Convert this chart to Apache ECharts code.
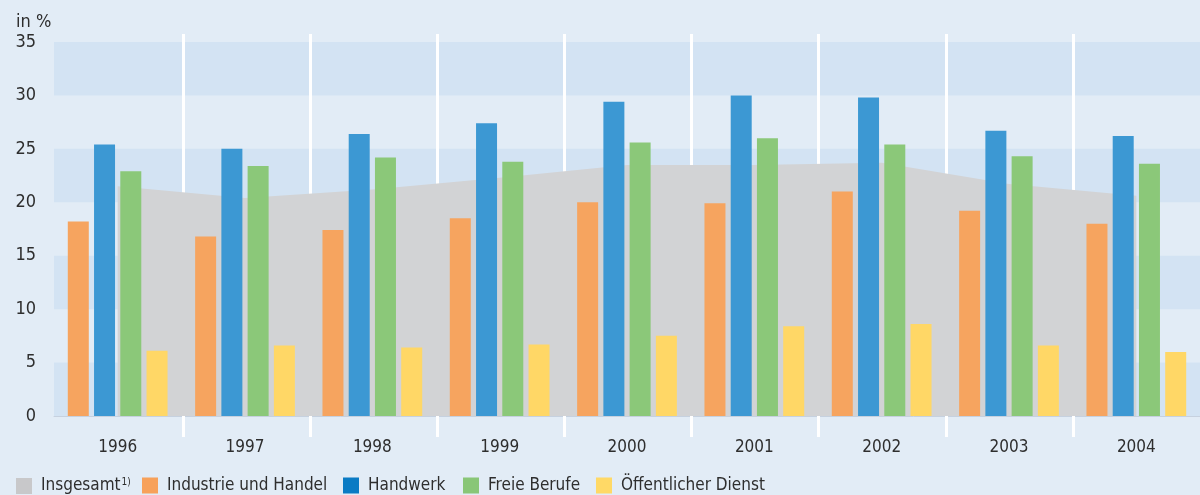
<!DOCTYPE html>
<html>
<head>
<meta charset="utf-8">
<script src="https://cdn.jsdelivr.net/npm/echarts@6/dist/echarts.min.js"></script>
<style>
html,body{margin:0;padding:0;background:#e2ecf6;}
#chart{width:1200px;height:495px;}
</style>
</head>
<body>
<div id="chart"></div>
<script>
const years = ['1996','1997','1998','1999','2000','2001','2002','2003','2004'];
const yTicks = [0, 35, 5]; // min, max, interval
const insgesamt = [21.5, 20.4, 21.2, 22.3, 23.5, 23.5, 23.7, 21.7, 20.6];
const industrie = [18.2, 16.8, 17.4, 18.5, 20.0, 19.9, 21.0, 19.2, 18.0];
const handwerk = [25.4, 25.0, 26.4, 27.4, 29.4, 30.0, 29.8, 26.7, 26.2];
const freieBerufe = [22.9, 23.4, 24.2, 23.8, 25.6, 26.0, 25.4, 24.3, 23.6];
const oeffentlich = [6.1, 6.6, 6.4, 6.7, 7.5, 8.4, 8.6, 6.6, 6.0];
const seriesNames = ['Insgesamt', 'Industrie und Handel', 'Handwerk', 'Freie Berufe', 'Öffentlicher Dienst'];

const FONT = '"Liberation Sans Narrow", "DejaVu Sans Condensed", "Noto Sans", sans-serif';
const TXT = '#2e2e2e';
const barColors = ['#f6a45f', '#3c98d3', '#8bc879', '#ffd766'];
const legendColors = ['#c8c8ca', '#f7a15a', '#0a7bc4', '#89c677', '#ffd966'];
const legendLefts = [16, 142, 343, 463, 596];

const chart = echarts.init(document.getElementById('chart'), null, {renderer: 'canvas'});

const legends = seriesNames.map((n, i) => ({
  data: [{name: n, itemStyle: {color: legendColors[i]}}],
  left: legendLefts[i],
  top: 477,
  padding: 0,
  icon: 'rect',
  itemWidth: 16,
  itemHeight: 16,
  selectedMode: false,
  formatter: i === 0 ? (name) => name + '{sup|1)}' : undefined,
  textStyle: {
    fontFamily: FONT, fontSize: 17, color: TXT, padding: [0, 0, 0, 4],
    rich: {sup: {fontFamily: FONT, fontSize: 10, color: TXT, verticalAlign: 'top', padding: [0, 0, 8, 1]}}
  }
}));

const barSeries = [industrie, handwerk, freieBerufe, oeffentlich].map((d, i) => ({
  name: seriesNames[i + 1],
  type: 'bar',
  data: d,
  barWidth: 21,
  barGap: '25%',
  itemStyle: {color: barColors[i]},
  z: 3,
  silent: true
}));

chart.setOption({
  backgroundColor: '#e2ecf6',
  animation: false,
  title: {
    text: 'in %', left: 11, top: 8,
    textStyle: {fontFamily: FONT, fontSize: 18, fontWeight: 'normal', color: TXT}
  },
  legend: legends,
  grid: [
    {left: 54, right: 0, top: 42, bottom: 79},
    {left: 56, right: 0, top: 34, bottom: 58}
  ],
  xAxis: [
    {
      type: 'category', data: years, gridIndex: 0,
      axisLine: {show: true, lineStyle: {color: '#c6d1df', width: 1}},
      axisTick: {show: false},
      splitLine: {show: false},
      axisLabel: {fontFamily: FONT, fontSize: 17, color: TXT, margin: 23}
    },
    {
      type: 'category', data: years, gridIndex: 1, z: 1,
      axisLine: {show: false}, axisTick: {show: false}, axisLabel: {show: false},
      splitLine: {show: true, showMinLine: false, showMaxLine: false, lineStyle: {color: '#ffffff', width: 3}}
    }
  ],
  yAxis: [
    {
      type: 'value', gridIndex: 0, min: yTicks[0], max: yTicks[1], interval: yTicks[2], z: 0,
      axisLine: {show: false}, axisTick: {show: false},
      splitLine: {show: false},
      splitArea: {show: true, areaStyle: {color: ['#d3e3f3', 'rgba(0,0,0,0)']}},
      axisLabel: {fontFamily: FONT, fontSize: 18, color: TXT, margin: 18}
    },
    {
      type: 'value', gridIndex: 1, show: false, min: 0, max: 1
    }
  ],
  series: [
    {
      name: seriesNames[0],
      type: 'line',
      data: insgesamt,
      symbol: 'none',
      lineStyle: {width: 0},
      itemStyle: {color: '#d2d3d5'},
      areaStyle: {color: '#d2d3d5', opacity: 1},
      z: 2,
      silent: true
    }
  ].concat(barSeries)
});
</script>
</body>
</html>
